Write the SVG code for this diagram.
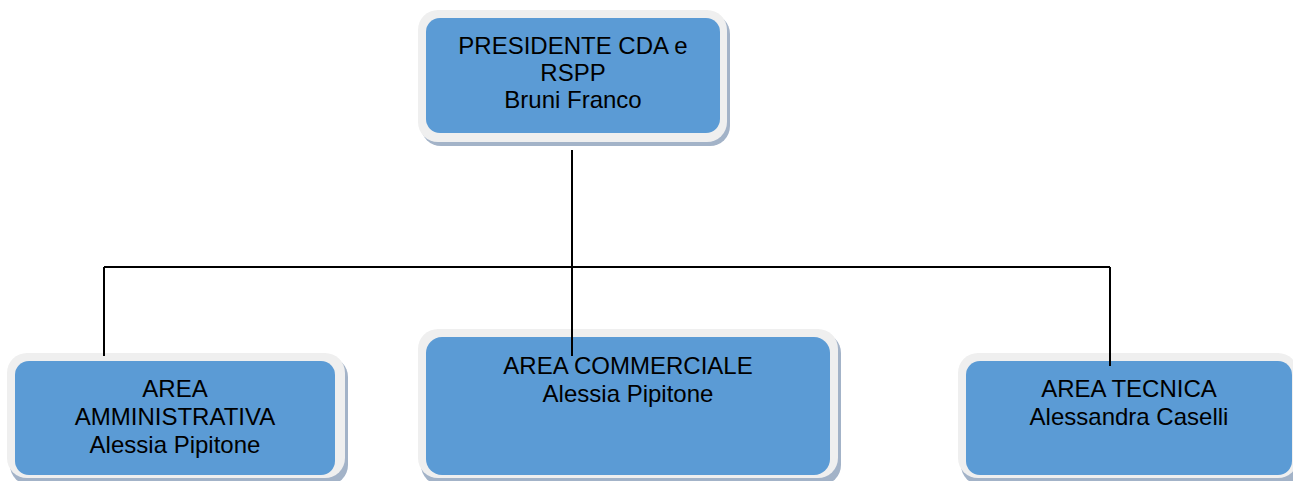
<svg xmlns="http://www.w3.org/2000/svg" width="1293" height="481" viewBox="0 0 1293 481">
<style>
.sh{fill:#A3B3C8}
.fr{fill:#EFEFEF}
.bx{fill:#5B9BD5}
.t{font-family:"Liberation Sans",Arial,sans-serif;font-size:24px;fill:#000;text-anchor:middle}
.c{stroke:#000;stroke-width:2;fill:none}
</style>
<rect width="1293" height="481" fill="#fff"/>
<g id="presidente">
<rect class="sh" x="421" y="14" width="309" height="132" rx="20"/>
<rect class="fr" x="418" y="10" width="309" height="132" rx="20"/>
<rect class="bx" x="426" y="18" width="294" height="115" rx="14"/>
<text class="t" x="573" y="54">PRESIDENTE CDA e</text>
<text class="t" x="573" y="81">RSPP</text>
<text class="t" x="573" y="108">Bruni Franco</text>
</g>
<g id="amministrativa">
<rect class="sh" x="10" y="357" width="338" height="128" rx="20"/>
<rect class="fr" x="7" y="353" width="338" height="125" rx="20"/>
<rect class="bx" x="15" y="361" width="320" height="114" rx="14"/>
<text class="t" x="175" y="397">AREA</text>
<text class="t" x="175" y="425">AMMINISTRATIVA</text>
<text class="t" x="175" y="453">Alessia Pipitone</text>
</g>
<g id="commerciale">
<rect class="sh" x="421" y="333" width="420" height="152" rx="20"/>
<rect class="fr" x="418" y="329" width="420" height="149" rx="20"/>
<rect class="bx" x="426" y="337" width="404" height="138" rx="16"/>
<text class="t" x="628" y="374">AREA COMMERCIALE</text>
<text class="t" x="628" y="402">Alessia Pipitone</text>
</g>
<g id="tecnica">
<rect class="sh" x="961" y="357" width="340" height="128" rx="20"/>
<rect class="fr" x="958" y="353" width="340" height="125" rx="20"/>
<rect class="bx" x="966" y="361" width="326" height="114" rx="14"/>
<text class="t" x="1129" y="397">AREA TECNICA</text>
<text class="t" x="1129" y="425">Alessandra Caselli</text>
</g>
<g id="connectors">
<path class="c" d="M572,150 V356"/>
<path class="c" d="M104,267 H1110"/>
<path class="c" d="M104,267 V356"/>
<path class="c" d="M1110,267 V366"/>
</g>
</svg>
